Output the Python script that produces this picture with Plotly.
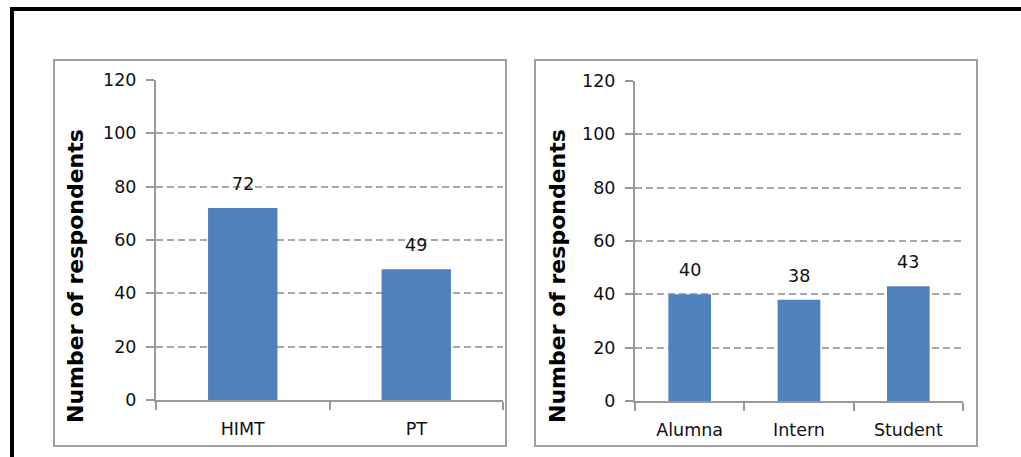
import plotly.graph_objects as go

# data
left_categories = ["HIMT", "PT"]
left_values = [72, 49]
right_categories = ["Alumna", "Intern", "Student"]
right_values = [40, 38, 43]
y_title = "Number of respondents"
y_ticks = [0, 20, 40, 60, 80, 100, 120]

W, H = 1021, 457
BAR = "#4F81BD"
FONT = "DejaVu Sans"
TXT = "#111111"
AX = "#999999"
GRID = "#a8a8a8"


def px_x(v):
    return v / W


def px_y(v):
    return 1 - v / H


fig = go.Figure()
fig.add_trace(go.Bar(x=left_categories, y=left_values, marker_color=BAR,
                     marker_line_width=0, width=0.4, xaxis="x", yaxis="y"))
fig.add_trace(go.Bar(x=right_categories, y=right_values, marker_color=BAR,
                     marker_line_width=0, width=0.39, xaxis="x2", yaxis="y2"))

common_y = dict(range=[0, 120], tickvals=y_ticks, showline=True, linecolor=AX, linewidth=2,
                ticks="outside", ticklen=8, tickcolor=AX, tickwidth=2,
                showgrid=True, gridcolor=GRID, griddash="7px,4px", gridwidth=1.5,
                zeroline=False, tickfont=dict(family=FONT, size=17.5, color=TXT),
                ticklabelstandoff=6, fixedrange=True, automargin=False)
common_x = dict(type="category", showline=True, linecolor=AX, linewidth=2,
                ticks="outside", ticklen=8, tickcolor=AX, tickwidth=2, tickson="boundaries",
                showgrid=False, zeroline=False, tickfont=dict(family=FONT, size=17.5, color=TXT),
                ticklabelstandoff=12, fixedrange=True, automargin=False)

fig.update_layout(
    width=W, height=H, margin=dict(l=0, r=0, t=0, b=0, pad=0, autoexpand=False),
    paper_bgcolor="white", plot_bgcolor="white", showlegend=False,
    xaxis=dict(domain=[px_x(156), px_x(503)], anchor="y", **common_x),
    yaxis=dict(domain=[px_y(400), px_y(80)], anchor="x", **common_y),
    xaxis2=dict(domain=[px_x(635), px_x(963)], anchor="y2", **common_x),
    yaxis2=dict(domain=[px_y(401), px_y(81)], anchor="x2", **common_y),
)

# value labels
for cats, vals, xa, ya in [(left_categories, left_values, "x", "y"),
                           (right_categories, right_values, "x2", "y2")]:
    for c, v in zip(cats, vals):
        fig.add_annotation(x=c, y=v, xref=xa, yref=ya, text=str(v), showarrow=False,
                           yanchor="middle", yshift=24,
                           font=dict(family=FONT, size=17.5, color=TXT))

# axis titles
for xc in (75, 557):
    fig.add_annotation(x=px_x(xc), y=px_y(276), xref="paper", yref="paper", text=y_title,
                       showarrow=False, textangle=-90, xanchor="center", yanchor="middle",
                       font=dict(family=FONT, size=22, color="black", weight="bold"))

# panel borders
for x0, x1 in [(54, 506), (535, 977)]:
    fig.add_shape(type="rect", xref="paper", yref="paper",
                  x0=px_x(x0), x1=px_x(x1), y0=px_y(446), y1=px_y(60),
                  line=dict(color="#a0a0a0", width=2), fillcolor="rgba(0,0,0,0)", layer="below")

# outer frame (top and left edges; the rest lies outside the picture)
fig.add_shape(type="line", xref="paper", yref="paper",
              x0=px_x(10), x1=1, y0=px_y(9), y1=px_y(9), line=dict(color="black", width=4))
fig.add_shape(type="line", xref="paper", yref="paper",
              x0=px_x(12), x1=px_x(12), y0=px_y(7), y1=0, line=dict(color="black", width=4))

fig.write_html("out.html")
